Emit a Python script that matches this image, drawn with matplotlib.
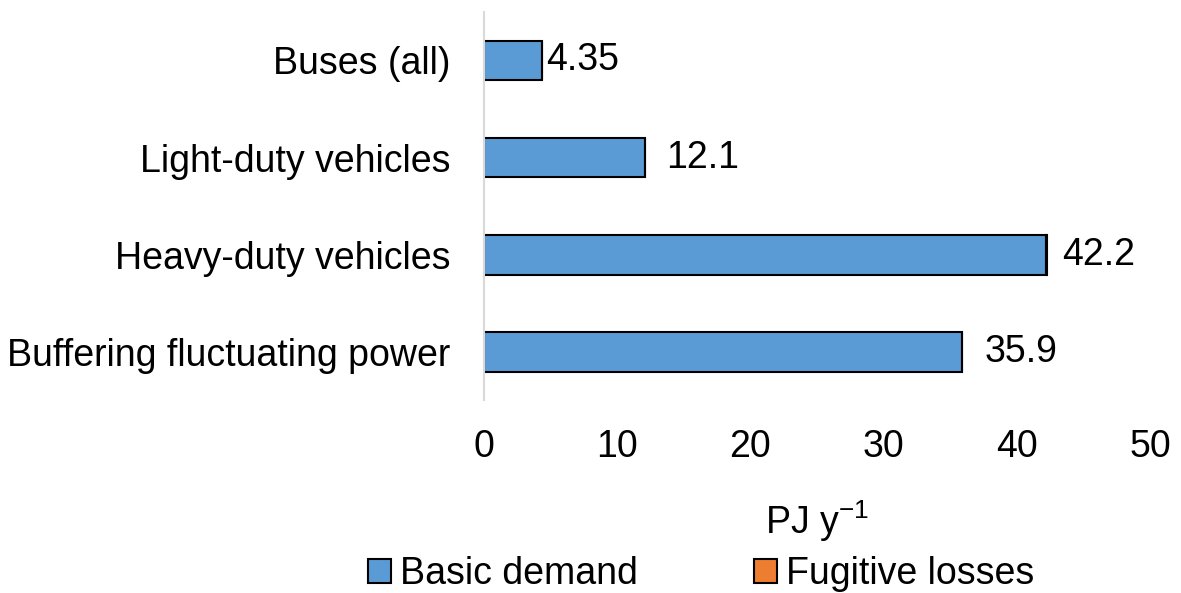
import matplotlib.pyplot as plt

plt.rcParams['font.family'] = ['Liberation Sans', 'DejaVu Sans']

categories = ['Buses (all)', 'Light-duty vehicles', 'Heavy-duty vehicles', 'Buffering fluctuating power']
basic = [4.35, 12.1, 42.2, 35.9]
fugitive = [0.0, 0.0, 0.05, 0.0]
labels = ['4.35', '12.1', '42.2', '35.9']
label_pad = [3, 15, 11, 16]

fig = plt.figure(figsize=(11.81, 5.93), dpi=100)
ax = fig.add_axes([0.4098, 0.325, 0.5640, 0.655])

y = range(len(categories))
b1 = ax.barh(y, basic, height=0.41, color='#5b9bd5', edgecolor='black', linewidth=1.5, label='Basic demand')
b2 = ax.barh(y, fugitive, left=basic, height=0.41, color='#ed7d31', edgecolor='black', linewidth=1.5, label='Fugitive losses')

for i in y:
    ax.annotate(labels[i], (basic[i] + fugitive[i], i), xytext=(label_pad[i], 0),
                textcoords='offset points', va='center', ha='left', fontsize=27)

ax.set_ylim(3.5, -0.5)
ax.set_xlim(0, 50)
ax.set_xticks([0, 10, 20, 30, 40, 50])
ax.set_yticks(list(y))
ax.set_yticklabels(categories, fontsize=27)
ax.tick_params(axis='x', labelsize=27, length=0, pad=21)
ax.tick_params(axis='y', length=0, pad=24)
for s in ['top', 'right', 'bottom']:
    ax.spines[s].set_visible(False)
ax.spines['left'].set_color('#d9d9d9')
ax.spines['left'].set_linewidth(1.5)

ax.set_xlabel('PJ y$^{\\mathregular{-1}}$', fontsize=27, labelpad=24)
fig.legend(handles=[b1, b2], loc='lower center', bbox_to_anchor=(0.594, -0.055), ncol=2,
           frameon=False, fontsize=27, handlelength=0.6, handleheight=0.6,
           handletextpad=0.25, columnspacing=3.1)

fig.savefig('out.png', dpi=100)
